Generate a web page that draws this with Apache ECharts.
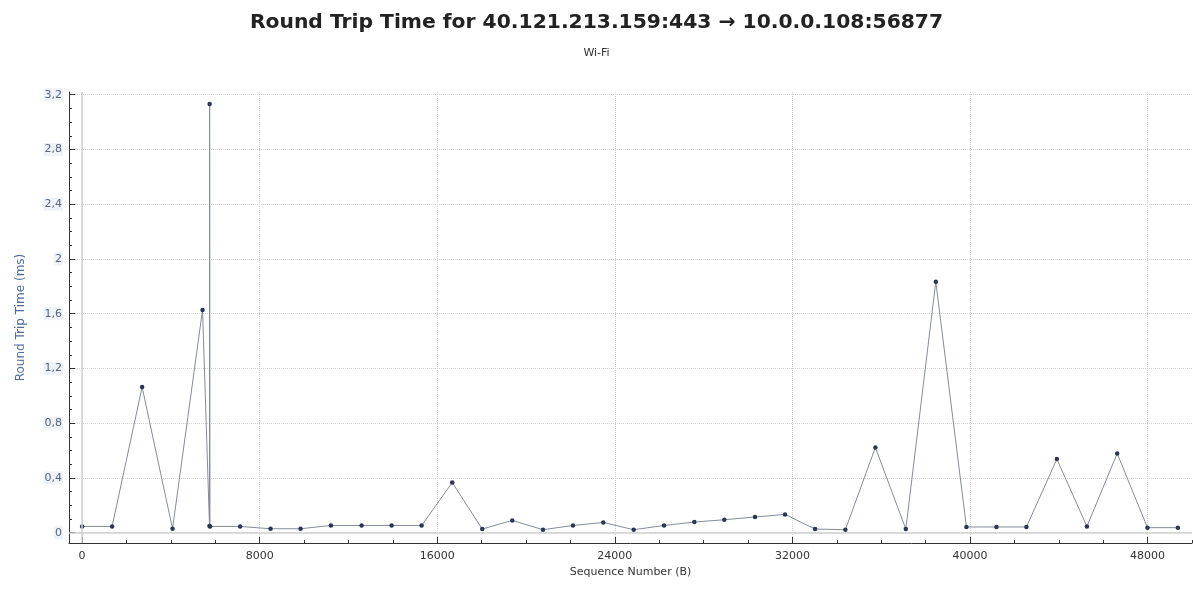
<!DOCTYPE html>
<html><head><meta charset="utf-8">
<script src="https://cdn.jsdelivr.net/npm/echarts@6/dist/echarts.min.js"></script>
<style>html,body{margin:0;padding:0;background:#fff}#c{width:1193px;height:590px}</style>
</head><body><div id="c"></div>
<script>
const titleText = 'Round Trip Time for 40.121.213.159:443 \u2192 10.0.0.108:56877';
const subtitleText = 'Wi-Fi';
const xAxisName = 'Sequence Number (B)';
const yAxisName = 'Round Trip Time (ms)';

const seqNumbers = [0, 1352, 2704, 4074, 5426, 5740, 5745, 5760, 7120, 8490, 9842, 11208, 12591, 13943, 15295, 16674, 18026, 19378, 20762, 22114, 23479, 24849, 26215, 27580, 28932, 30315, 31667, 33020, 34385, 35737, 37107, 38459, 39838, 41190, 42542, 43912, 45266, 46630, 47994, 49364];
const rttValues  = [0.046, 0.046, 1.064, 0.029, 1.628, 0.050, 3.132, 0.046, 0.046, 0.029, 0.029, 0.053, 0.053, 0.053, 0.053, 0.367, 0.027, 0.090, 0.022, 0.053, 0.075, 0.022, 0.053, 0.078, 0.095, 0.115, 0.134, 0.027, 0.022, 0.623, 0.027, 1.833, 0.042, 0.042, 0.042, 0.538, 0.046, 0.579, 0.037, 0.037];

const xMajorTicks = [0, 8000, 16000, 24000, 32000, 40000, 48000];
const xMinorTicks = [0, 2000, 4000, 6000, 8000, 10000, 12000, 14000, 16000, 18000, 20000, 22000, 24000, 26000, 28000, 30000, 32000, 34000, 36000, 38000, 40000, 42000, 44000, 46000, 48000, 50000];
const yMajorTicks = [0, 0.4, 0.8, 1.2, 1.6, 2, 2.4, 2.8, 3.2];
const yMinorTicks = [0, 0.1, 0.2, 0.3, 0.4, 0.5, 0.6, 0.7, 0.8, 0.9, 1, 1.1, 1.2, 1.3, 1.4, 1.5, 1.6, 1.7, 1.8, 1.9, 2, 2.1, 2.2, 2.3, 2.4, 2.5, 2.6, 2.7, 2.8, 2.9, 3, 3.1, 3.2];

const X_MIN = -590, X_MAX = 50000, Y_MIN = -0.075, Y_MAX = 3.22;
const FONT = 'DejaVu Sans';
const fmtComma = v => String(Math.round(v * 10) / 10).replace('.', ',');
const fmtPlain = v => String(Math.round(v));

const chart = echarts.init(document.getElementById('c'), null, {renderer: 'canvas'});
chart.setOption({
  animation: false,
  backgroundColor: '#ffffff',
  title: [
    {text: titleText, left: 'center', top: 8,
     textStyle: {fontFamily: FONT, fontWeight: 'bold', fontSize: 20.3, color: '#222222'}},
    {text: subtitleText, left: 'center', top: 43,
     textStyle: {fontFamily: FONT, fontWeight: 'normal', fontSize: 11, color: '#333333'}}
  ],
  grid: {left: 69, right: 1, top: 92, bottom: 47, containLabel: false},
  xAxis: [
    {type: 'value', min: X_MIN, max: X_MAX, position: 'bottom',
     axisLine: {show: true, onZero: false, lineStyle: {color: '#333333', width: 1}},
     axisTick: {show: true, inside: true, length: 3, customValues: xMinorTicks, lineStyle: {color: '#333333'}},
     axisLabel: {customValues: xMajorTicks, formatter: fmtPlain, color: '#333333', fontFamily: FONT, fontSize: 11, margin: 8},
     splitLine: {show: false},
     name: xAxisName, nameLocation: 'middle', nameGap: 24,
     nameTextStyle: {fontFamily: FONT, fontSize: 11, color: '#333333'}},
    {type: 'value', min: X_MIN, max: X_MAX, position: 'bottom',
     axisLine: {show: false, onZero: false},
     axisTick: {show: true, inside: true, length: 6, customValues: xMajorTicks, lineStyle: {color: '#333333'}},
     axisLabel: {show: false},
     splitLine: {show: true, lineStyle: {color: '#d2d2d2', type: 'dotted', width: 1}}}
  ],
  yAxis: [
    {type: 'value', min: Y_MIN, max: Y_MAX, position: 'left',
     axisLine: {show: true, onZero: false, lineStyle: {color: '#333333', width: 1}},
     axisTick: {show: true, inside: true, length: 3, customValues: yMinorTicks, lineStyle: {color: '#333333'}},
     axisLabel: {customValues: yMajorTicks, formatter: fmtComma, color: '#56657c', fontFamily: FONT, fontSize: 11,
                 margin: 6, backgroundColor: '#eef3f9', padding: [1, 1]},
     splitLine: {show: false},
     name: yAxisName, nameLocation: 'middle', nameGap: 42, nameRotate: 90,
     nameTextStyle: {fontFamily: FONT, fontSize: 12, color: '#4f6e9c'}},
    {type: 'value', min: Y_MIN, max: Y_MAX, position: 'left',
     axisLine: {show: false, onZero: false},
     axisTick: {show: true, inside: true, length: 6, customValues: yMajorTicks, lineStyle: {color: '#333333'}},
     axisLabel: {show: false},
     splitLine: {show: true, lineStyle: {color: '#d2d2d2', type: 'dotted', width: 1}}}
  ],
  series: [{
    type: 'line',
    xAxisIndex: 0, yAxisIndex: 0,
    data: seqNumbers.map((s, i) => [s, rttValues[i]]),
    symbol: 'circle', symbolSize: 4.5, showSymbol: true,
    itemStyle: {color: '#2c3652'},
    lineStyle: {color: '#858c99', width: 1},
    markLine: {
      silent: true, symbol: ['none', 'none'], label: {show: false},
      lineStyle: {color: '#d0d0d0', type: 'solid', width: 1.5},
      data: [{xAxis: 0}, {yAxis: 0}]
    }
  }]
});
</script>
</body></html>
